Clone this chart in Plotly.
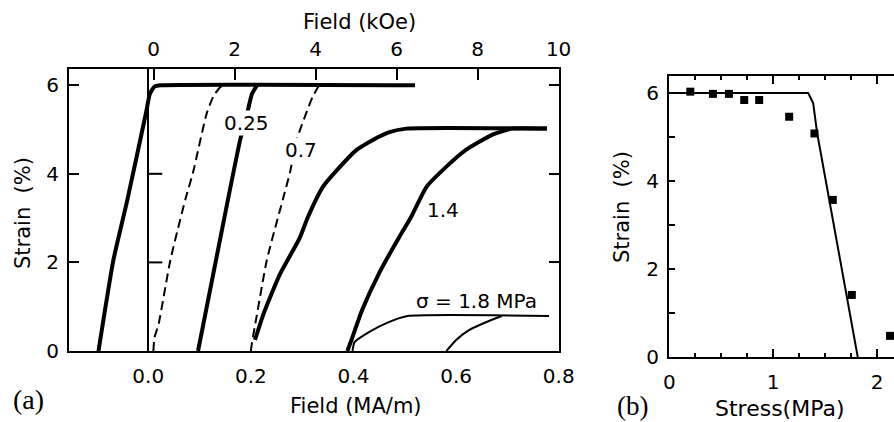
import plotly.graph_objects as go

# ---------------- Panel (a) data: strain (%) vs field (MA/m) ----------------
c0_x = [-0.097, -0.068, -0.041, -0.004, 0.003, 0.012, 0.025, 0.52]
c0_y = [0.0, 2.05, 3.4, 5.4, 5.8, 5.97, 6.0, 6.0]

d1_x = [0.010, 0.012, 0.020, 0.043, 0.072, 0.087, 0.114, 0.127, 0.140, 0.152]
d1_y = [0.0, 0.3, 0.6, 2.05, 3.41, 4.02, 5.37, 5.75, 5.95, 6.0]

c025_x = [0.097, 0.132, 0.155, 0.179, 0.192, 0.202, 0.212]
c025_y = [0.0, 2.05, 3.4, 4.76, 5.33, 5.8, 6.0]

d2_x = [0.200, 0.202, 0.211, 0.231, 0.262, 0.276, 0.289, 0.320, 0.333]
d2_y = [0.0, 0.18, 0.77, 2.05, 3.41, 4.02, 4.76, 5.73, 6.0]

cA_x = [0.208, 0.225, 0.256, 0.295, 0.311, 0.340, 0.373, 0.406, 0.437, 0.470, 0.503, 0.777]
cA_y = [0.25, 0.85, 1.72, 2.55, 3.02, 3.70, 4.15, 4.54, 4.76, 4.94, 5.02, 5.02]

cB_x = [0.388, 0.396, 0.417, 0.450, 0.489, 0.512, 0.542, 0.580, 0.619, 0.670, 0.709, 0.777]
cB_y = [0.0, 0.25, 0.93, 1.76, 2.57, 3.02, 3.70, 4.15, 4.54, 4.88, 5.02, 5.02]

cC_x = [0.398, 0.402, 0.431, 0.464, 0.505, 0.781]
cC_y = [0.0, 0.2, 0.43, 0.63, 0.79, 0.79]

cD_x = [0.581, 0.600, 0.625, 0.658, 0.689]
cD_y = [0.0, 0.25, 0.47, 0.65, 0.79]

a_xticks = [0.0, 0.2, 0.4, 0.6, 0.8]
a_yticks = [0, 2, 4, 6]
koe_ticks = [0, 2, 4, 6, 8, 10]

# ---------------- Panel (b) data: strain (%) vs stress (MPa) ----------------
b_pts_x = [0.202, 0.42, 0.574, 0.721, 0.865, 1.154, 1.397, 1.574, 1.757, 2.125]
b_pts_y = [6.03, 5.98, 5.98, 5.84, 5.84, 5.46, 5.08, 3.57, 1.41, 0.48]
b_line_x = [0.0, 1.337, 1.385, 1.423, 1.814]
b_line_y = [6.0, 6.0, 5.77, 5.09, 0.0]
b_xticks = [0, 1, 2]
b_yticks = [0, 2, 4, 6]

W, H = 894, 422
FONT = "DejaVu Sans"

def px(x):
    return x / W

def py(y):
    return 1 - y / H

fig = go.Figure()

thick = dict(color="black", width=4, shape="spline", smoothing=0.5)
dashed = dict(color="black", width=2, dash="9px,5px", shape="spline", smoothing=0.5)
thin = dict(color="black", width=2, shape="spline", smoothing=0.5)

for xs, ys, ln in [(c0_x, c0_y, thick), (d1_x, d1_y, dashed), (c025_x, c025_y, thick),
                   (d2_x, d2_y, dashed), (cA_x, cA_y, thick), (cB_x, cB_y, thick),
                   (cC_x, cC_y, thin), (cD_x, cD_y, thin)]:
    fig.add_trace(go.Scatter(x=xs, y=ys, mode="lines", line=ln, xaxis="x", yaxis="y",
                             showlegend=False, hoverinfo="skip"))

# invisible trace so the top (kOe) axis is drawn
fig.add_trace(go.Scatter(x=[koe_ticks[0]], y=[0], mode="markers", marker=dict(opacity=0),
                         xaxis="x2", yaxis="y", showlegend=False, hoverinfo="skip"))

fig.add_trace(go.Scatter(x=b_line_x, y=b_line_y, mode="lines", line=dict(color="black", width=2),
                         xaxis="x3", yaxis="y3", showlegend=False, hoverinfo="skip"))
fig.add_trace(go.Scatter(x=b_pts_x, y=b_pts_y, mode="markers",
                         marker=dict(symbol="square", size=8, color="black"),
                         xaxis="x3", yaxis="y3", showlegend=False, hoverinfo="skip", cliponaxis=False))

tickfont = dict(family=FONT, size=20, color="black")
a_dom_x = [px(69), px(559)]
a_dom_y = [py(351), py(69)]
b_dom_x = [px(669), 1.0]
b_dom_y = [py(357), py(76)]

fig.update_layout(
    width=W, height=H,
    margin=dict(l=0, r=0, t=0, b=0, autoexpand=False),
    paper_bgcolor="white", plot_bgcolor="white",
    xaxis=dict(domain=a_dom_x, range=[-0.1545, 0.8005], anchor="y", automargin=False,
               showline=True, linewidth=2, linecolor="black", mirror=False,
               ticks="", tickvals=a_xticks, ticktext=[f"{v:.1f}" for v in a_xticks],
               tickfont=tickfont, ticklabelstandoff=6, ticklabeloverflow="allow",
               showgrid=False, zeroline=True, zerolinecolor="black", zerolinewidth=1.5),
    xaxis2=dict(domain=a_dom_x, range=[-2.09, 10.01], overlaying="x", side="top", anchor="y",
                automargin=False,
                showline=True, linewidth=2, linecolor="black",
                ticks="inside", ticklen=11, tickwidth=2, tickcolor="black",
                tickvals=koe_ticks, ticktext=[str(v) for v in koe_ticks],
                tickfont=tickfont, ticklabelstandoff=3, ticklabeloverflow="allow",
                showgrid=False, zeroline=False),
    yaxis=dict(domain=a_dom_y, range=[0, 6.366], anchor="x", automargin=False,
               showline=True, linewidth=2, linecolor="black", mirror="ticks",
               ticks="inside", ticklen=10, tickwidth=2, tickcolor="black",
               tickvals=a_yticks, tickfont=tickfont, ticklabelstandoff=4, ticklabeloverflow="allow",
               showgrid=False, zeroline=False),
    xaxis3=dict(domain=b_dom_x, range=[-0.003, 2.163], anchor="y3", automargin=False,
                showline=True, linewidth=2, linecolor="black", mirror="ticks",
                ticks="inside", ticklen=8, tickwidth=2, tickcolor="black",
                tickvals=b_xticks, ticktext=[str(v) for v in b_xticks],
                tickfont=tickfont, ticklabelstandoff=6, ticklabeloverflow="allow",
                minor=dict(dtick=0.25, ticks="inside", ticklen=4, tickwidth=1.5, tickcolor="black"),
                showgrid=False, zeroline=False),
    yaxis3=dict(domain=b_dom_y, range=[0, 6.386], anchor="x3", automargin=False,
                showline=True, linewidth=2, linecolor="black",
                ticks="inside", ticklen=6, tickwidth=2, tickcolor="black",
                tickvals=b_yticks, tickfont=tickfont, ticklabelstandoff=4, ticklabeloverflow="allow",
                minor=dict(dtick=1, ticks="inside", ticklen=6, tickwidth=1.5, tickcolor="black"),
                showgrid=False, zeroline=False),
)

# ticks on the zero line of panel (a)
for v in [2, 4]:
    fig.add_shape(type="line", xref="x", yref="y", xsizemode="pixel", xanchor=0,
                  x0=0, x1=14, y0=v, y1=v, line=dict(color="black", width=2))

lab = dict(family=FONT, size=21, color="black")
ann = [
    dict(text="Field (kOe)", x=px(359), y=py(22), font=lab),
    dict(text="Field (MA/m)", x=px(356), y=py(406), font=lab),
    dict(text="Strain  (%)", x=px(23), y=py(213), font=lab, textangle=-90),
    dict(text="(a)", x=px(29), y=py(399), font=dict(family="Liberation Serif", size=28, color="black")),
    dict(text="Stress(MPa)", x=px(780), y=py(408), font=dict(family=FONT, size=22, color="black")),
    dict(text="(b)", x=px(632), y=py(406), font=dict(family="Liberation Serif", size=27, color="black")),
    dict(text="Strain  (%)", x=px(622), y=py(207), font=lab, textangle=-90),
]
for a in ann:
    fig.add_annotation(xref="paper", yref="paper", showarrow=False, xanchor="center", yanchor="middle", **a)

curve_labels = [("0.25", 0.192, 5.14), ("0.7", 0.297, 4.54), ("1.4", 0.575, 3.18), ("σ = 1.8 MPa", 0.639, 1.13)]
for t, x, y in curve_labels:
    fig.add_annotation(xref="x", yref="y", x=x, y=y, text=t, showarrow=False,
                       font=dict(family=FONT, size=20, color="black"),
                       bgcolor="white" if t in ("0.25", "0.7") else "rgba(0,0,0,0)", borderpad=0)

fig.write_html("out.html", config={"displayModeBar": False},
               post_script="document.body.style.margin='0';")
